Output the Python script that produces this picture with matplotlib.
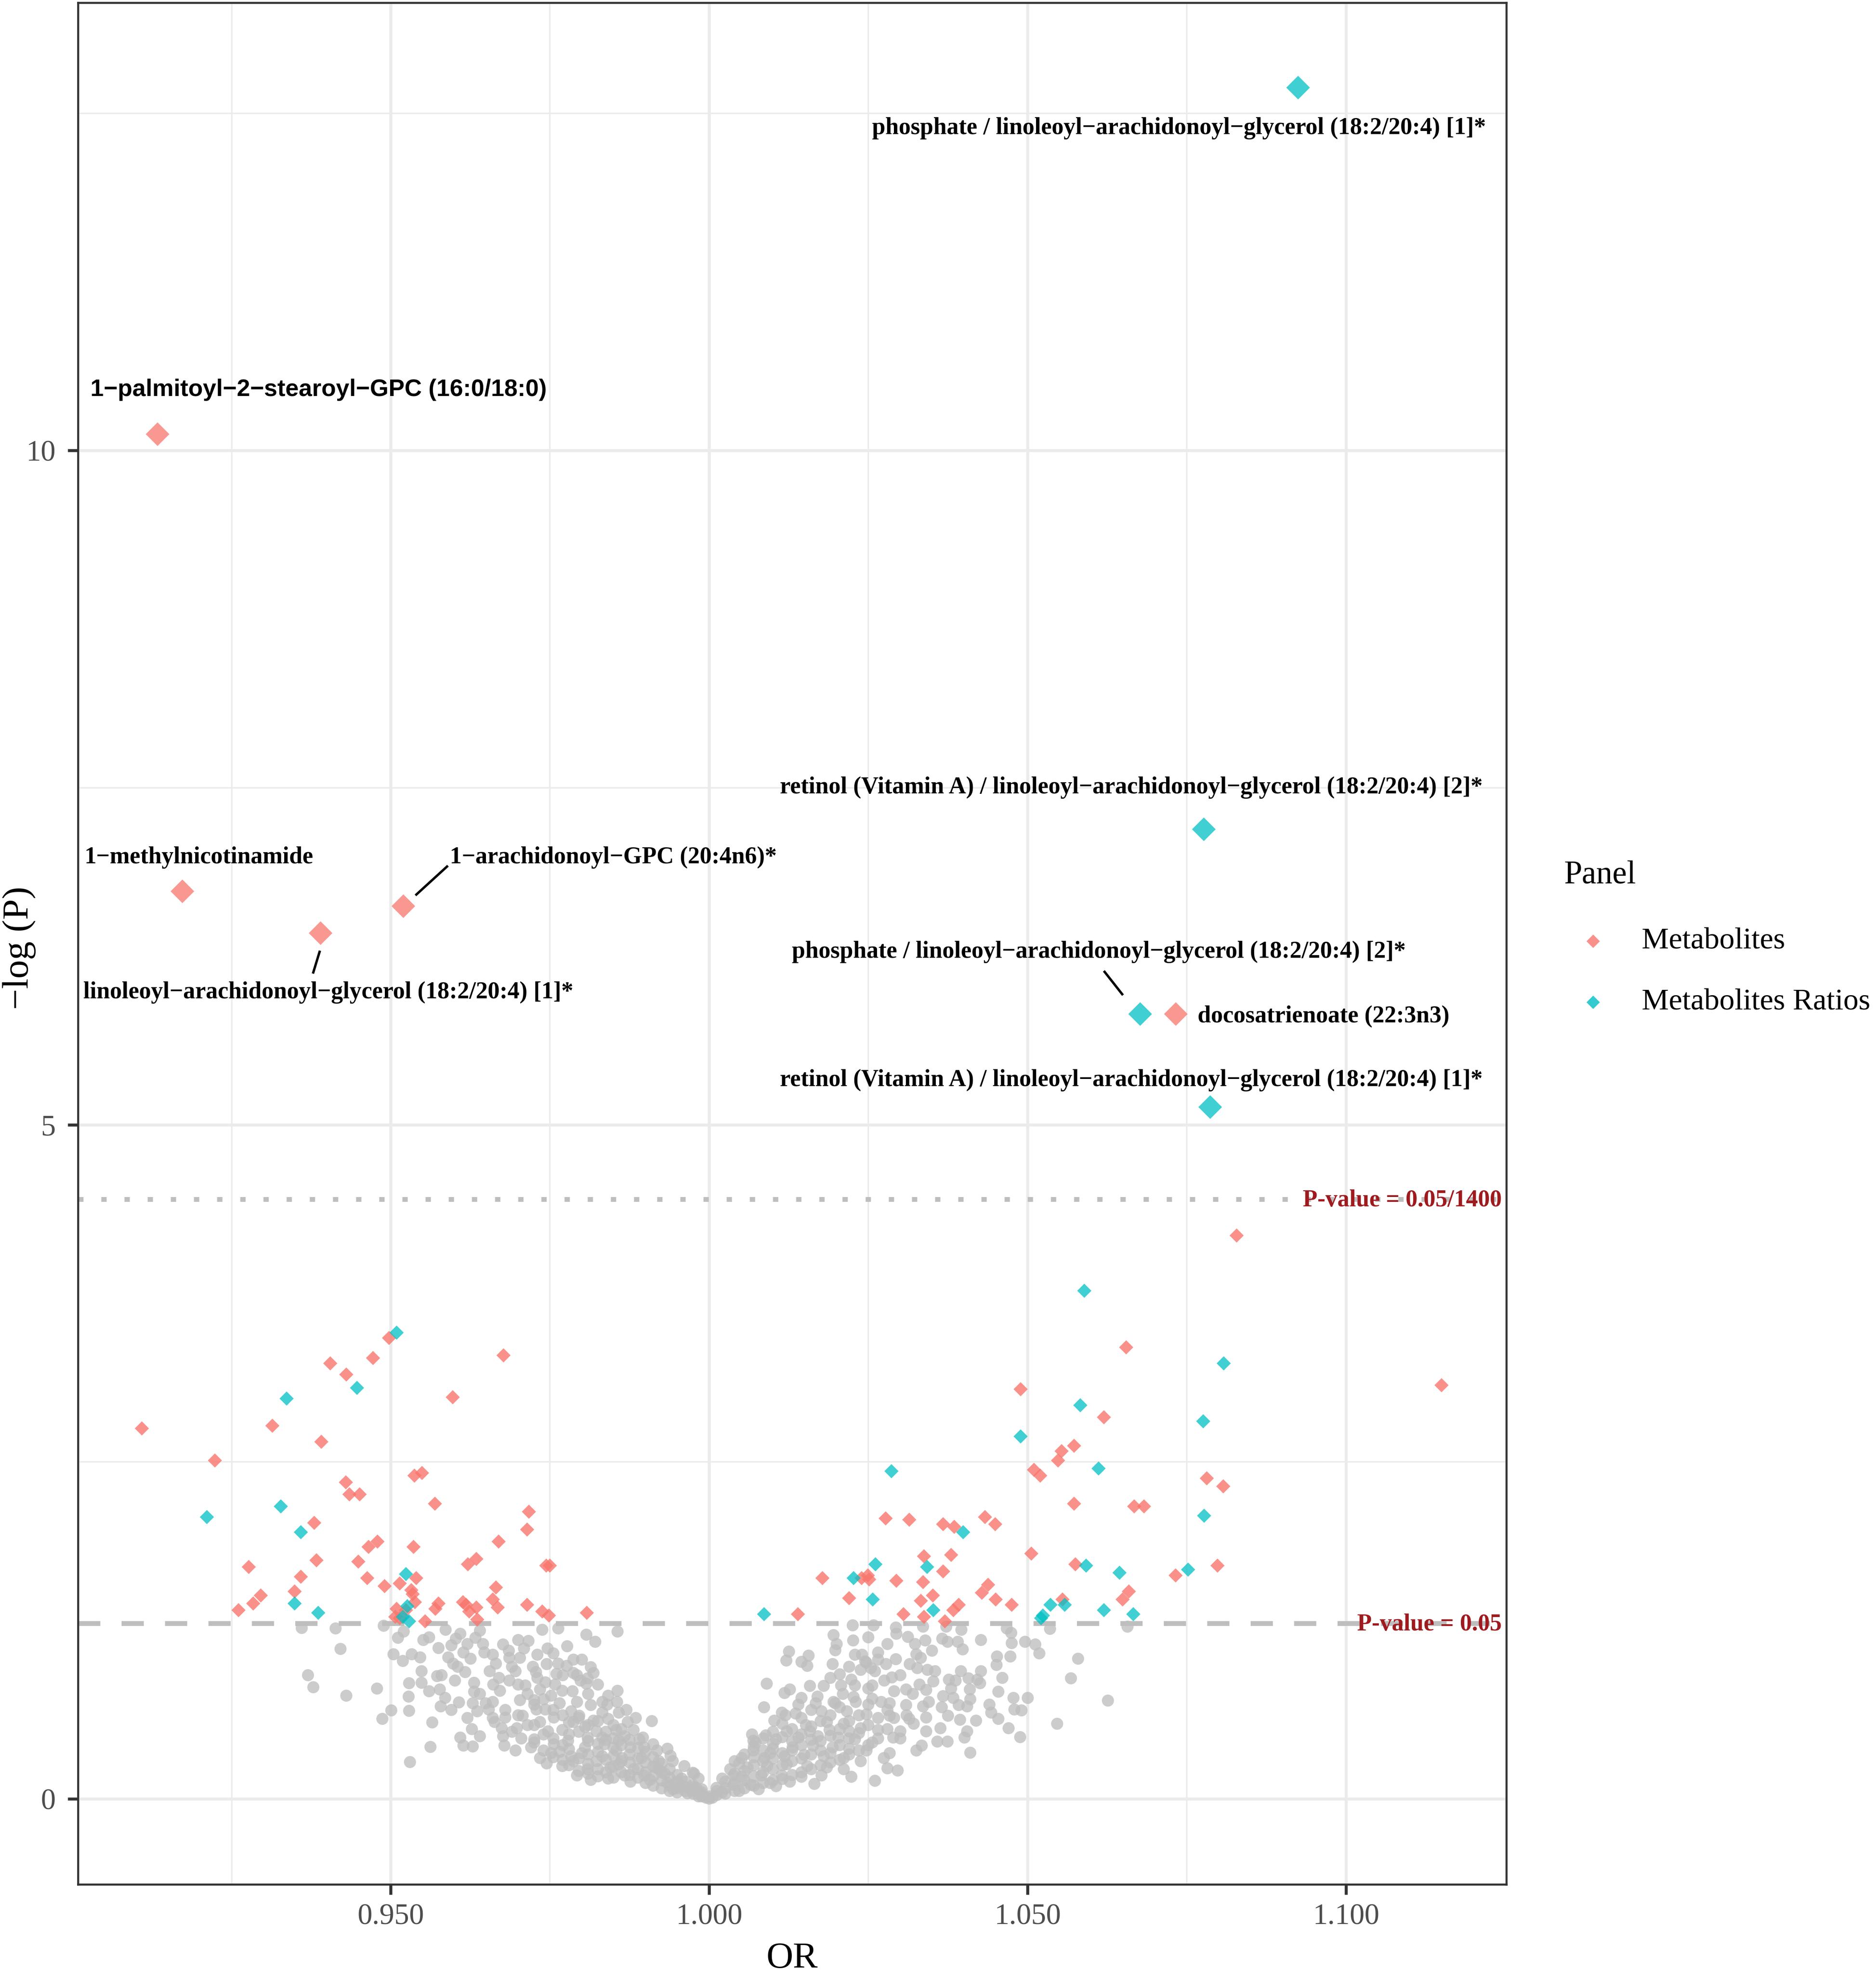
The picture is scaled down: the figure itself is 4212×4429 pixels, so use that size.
import numpy as np
import matplotlib
matplotlib.use("Agg")
import matplotlib.pyplot as plt
from matplotlib.lines import Line2D

# ---------------------------------------------------------------- data
# labelled hits (Bonferroni significant)
hit_names = [
    "phosphate / linoleoyl\u2212arachidonoyl\u2212glycerol (18:2/20:4) [1]*",
    "1\u2212palmitoyl\u22122\u2212stearoyl\u2212GPC (16:0/18:0)",
    "retinol (Vitamin A) / linoleoyl\u2212arachidonoyl\u2212glycerol (18:2/20:4) [2]*",
    "1\u2212methylnicotinamide",
    "1\u2212arachidonoyl\u2212GPC (20:4n6)*",
    "linoleoyl\u2212arachidonoyl\u2212glycerol (18:2/20:4) [1]*",
    "phosphate / linoleoyl\u2212arachidonoyl\u2212glycerol (18:2/20:4) [2]*",
    "docosatrienoate (22:3n3)",
    "retinol (Vitamin A) / linoleoyl\u2212arachidonoyl\u2212glycerol (18:2/20:4) [1]*",
]
hit_or = [1.0925, 0.9134, 1.0777, 0.9173, 0.9520, 0.9390, 1.0677, 1.0733, 1.0787]
hit_logp = [12.69, 10.12, 7.19, 6.73, 6.62, 6.42, 5.82, 5.82, 5.13]
hit_panel = ["Metabolites Ratios", "Metabolites", "Metabolites Ratios", "Metabolites",
             "Metabolites", "Metabolites", "Metabolites Ratios", "Metabolites",
             "Metabolites Ratios"]

# nominally significant metabolites
met_or = [0.9109, 0.9224, 0.9314, 0.9405, 0.9430, 0.9472, 0.9497, 0.9677, 0.9597, 0.9391,
          0.9429, 0.9435, 0.9451, 0.9537, 0.9549, 0.9569, 0.9717, 0.9714, 0.9380, 0.9669,
          0.9536, 0.9465, 0.9479, 0.9277, 0.9383, 0.9359, 0.9449, 0.9463, 0.9490, 0.9621,
          0.9634, 0.9744, 0.9750, 0.9540, 0.9514, 0.9532, 0.9534, 0.9665, 0.9349, 0.9296,
          0.9284, 0.9261, 0.9538, 0.9575, 0.9570, 0.9613, 0.9618, 0.9634, 0.9623, 0.9660,
          0.9668, 0.9714, 0.9738, 0.9748, 0.9808, 0.9509, 0.9524, 0.9507, 0.9514, 0.9554,
          0.9636,
          1.0828, 1.0655, 1.1150, 1.0489, 1.0620, 1.0573, 1.0553, 1.0548, 1.0510, 1.0520,
          1.0781, 1.0807, 1.0573, 1.0667, 1.0683, 1.0277, 1.0314, 1.0367, 1.0385, 1.0433,
          1.0449, 1.0337, 1.0380, 1.0506, 1.0575, 1.0798, 1.0732, 1.0178, 1.0239, 1.0249,
          1.0251, 1.0294, 1.0336, 1.0367, 1.0438, 1.0428, 1.0450, 1.0475, 1.0220, 1.0332,
          1.0351, 1.0392, 1.0383, 1.0305, 1.0337, 1.0370, 1.0139, 1.0555, 1.0659, 1.0649]
met_logp = [2.75, 2.51, 2.77, 3.23, 3.15, 3.27, 3.42, 3.29, 2.98, 2.65,
            2.35, 2.26, 2.26, 2.40, 2.42, 2.19, 2.13, 2.00, 2.05, 1.91,
            1.87, 1.87, 1.91, 1.72, 1.77, 1.65, 1.76, 1.64, 1.58, 1.74,
            1.78, 1.73, 1.73, 1.64, 1.60, 1.55, 1.52, 1.57, 1.54, 1.51,
            1.45, 1.40, 1.46, 1.45, 1.41, 1.46, 1.44, 1.42, 1.39, 1.48,
            1.42, 1.44, 1.39, 1.36, 1.38, 1.41, 1.40, 1.35, 1.34, 1.32,
            1.33,
            4.18, 3.35, 3.07, 3.04, 2.83, 2.62, 2.58, 2.51, 2.44, 2.40,
            2.38, 2.32, 2.19, 2.17, 2.17, 2.08, 2.07, 2.04, 2.02, 2.09,
            2.04, 1.80, 1.81, 1.82, 1.74, 1.73, 1.66, 1.64, 1.64, 1.66,
            1.63, 1.62, 1.61, 1.69, 1.59, 1.53, 1.48, 1.44, 1.49, 1.47,
            1.51, 1.44, 1.40, 1.37, 1.35, 1.32, 1.37, 1.48, 1.54, 1.48]

# nominally significant metabolite ratios
ratio_or = [0.9509, 0.9336, 0.9447, 0.9211, 0.9327, 0.9359, 0.9524, 0.9349, 0.9386, 0.9526,
            0.9529, 0.9519,
            1.0589, 1.0808, 1.0583, 1.0776, 1.0489, 1.0611, 1.0286, 1.0777, 1.0399, 1.0261,
            1.0342, 1.0592, 1.0752, 1.0644, 1.0227, 1.0257, 1.0352, 1.0536, 1.0558, 1.0620,
            1.0666, 1.0086, 1.0521, 1.0524]
ratio_logp = [3.46, 2.97, 3.05, 2.09, 2.17, 1.98, 1.67, 1.45, 1.38, 1.43,
              1.32, 1.35,
              3.77, 3.23, 2.92, 2.80, 2.69, 2.45, 2.43, 2.10, 1.98, 1.74,
              1.72, 1.73, 1.70, 1.68, 1.64, 1.48, 1.40, 1.44, 1.44, 1.40,
              1.37, 1.37, 1.34, 1.36]

# not significant (P >= 0.05), OR < 1
ns_left_or = [
    0.9360, 0.9413, 0.9421, 0.9370, 0.9378, 0.9430, 0.9478, 0.9487, 0.9501, 0.9529,
    0.9528, 0.9529, 0.9548, 0.9489, 0.9511, 0.9520, 0.9504, 0.9519, 0.9533, 0.9546,
    0.9551, 0.9530, 0.9562, 0.9565, 0.9573, 0.9577, 0.9585, 0.9578, 0.9586, 0.9598,
    0.9602, 0.9609, 0.9614, 0.9617, 0.9601, 0.9607, 0.9609, 0.9614, 0.9627, 0.9633,
    0.9645, 0.9647, 0.9631, 0.9631, 0.9629, 0.9636, 0.9640, 0.9629, 0.9661, 0.9660,
    0.9665, 0.9676, 0.9685, 0.9686, 0.9686, 0.9671, 0.9674, 0.9676, 0.9678, 0.9696,
    0.9654, 0.9663, 0.9649, 0.9696, 0.9703, 0.9711, 0.9716, 0.9709, 0.9723, 0.9728,
    0.9743, 0.9725, 0.9707, 0.9703, 0.9734, 0.9745, 0.9720, 0.9734, 0.9738, 0.9746,
    0.9755, 0.9763, 0.9760, 0.9763, 0.9776, 0.9752, 0.9765, 0.9777, 0.9787, 0.9800,
    0.9787, 0.9792, 0.9807, 0.9821, 0.9814, 0.9809, 0.9807, 0.9818, 0.9856, 0.9856,
    0.9858, 0.9910, 0.9896, 0.9974, 0.9939, 0.9918,
    0.9783, 0.9796, 0.9832, 0.9841, 0.9787, 0.9769, 0.9805, 0.9823, 0.9854, 0.9867,
    0.9778, 0.9809, 0.9836, 0.9876, 0.9765, 0.9800, 0.9832, 0.9863, 0.9894, 0.9769,
    0.9809, 0.9845, 0.9881, 0.9916, 0.9792, 0.9814, 0.9841, 0.9876, 0.9907, 0.9934,
    0.9943, 0.9966, 0.9983, 1.0000, 0.9930, 0.9957, 0.9898, 0.9867, 0.9854, 0.9787,
    0.9756, 0.9747, 0.9743, 0.9814, 0.9832, 0.9898, 0.9921, 0.9988, 0.9974, 0.9952,
    0.9729, 0.9756, 0.9818, 0.9850, 0.9881, 0.9890, 0.9912, 0.9934, 0.9943, 0.9961,
    0.9983, 0.9921, 0.9858, 0.9823, 0.9783, 0.9805, 0.9858, 0.9872, 0.9792, 0.9832,
    0.9769, 0.9734, 0.9841, 0.9698, 0.9680, 0.9725, 0.9752,
    0.9725, 0.9725, 0.9725, 0.9740, 0.9740, 0.9740, 0.9755, 0.9755, 0.9755, 0.9770,
    0.9770, 0.9770, 0.9780, 0.9780, 0.9780, 0.9780, 0.9795, 0.9795, 0.9795, 0.9795,
    0.9810, 0.9810, 0.9810, 0.9810, 0.9810, 0.9825, 0.9825, 0.9825, 0.9825, 0.9825,
    0.9838, 0.9838, 0.9838, 0.9838, 0.9850, 0.9850, 0.9850, 0.9850, 0.9850, 0.9862,
    0.9862, 0.9862, 0.9862, 0.9875, 0.9875, 0.9875, 0.9875, 0.9888, 0.9888, 0.9888,
    0.9888, 0.9900, 0.9900, 0.9900, 0.9900, 0.9912, 0.9912, 0.9912, 0.9912, 0.9925,
    0.9925, 0.9925, 0.9925, 0.9938, 0.9938, 0.9938, 0.9938, 0.9950, 0.9950, 0.9950,
    0.9950, 0.9962, 0.9962, 0.9962, 0.9975, 0.9975, 0.9975, 0.9988, 0.9988, 0.9988,
    0.9995,
    0.9560, 0.9575, 0.9590, 0.9605, 0.9620, 0.9640, 0.9655, 0.9670, 0.9690, 0.9700,
    0.9715, 0.9730, 0.9745, 0.9758, 0.9770, 0.9785, 0.9798, 0.9810, 0.9825, 0.9840,
    0.9855, 0.9870, 0.9885, 0.9640, 0.9660, 0.9680, 0.9700, 0.9715, 0.9690, 0.9705,
    0.9660, 0.9620, 0.9595, 0.9580, 0.9560, 0.9548, 0.9595, 0.9625, 0.9700, 0.9730]
ns_left_logp = [
    1.269, 1.267, 1.113, 0.919, 0.829, 0.766, 0.819, 0.594, 0.658, 0.655,
    0.761, 0.860, 0.864, 1.284, 1.197, 1.244, 1.073, 1.023, 1.075, 1.052,
    1.179, 0.274, 0.387, 0.567, 0.913, 0.814, 0.751, 0.687, 1.255, 1.006,
    1.191, 1.226, 1.087, 0.942, 0.878, 0.716, 0.455, 0.397, 0.519, 1.197,
    1.151, 1.087, 0.861, 0.797, 0.710, 0.652, 0.466, 0.391, 0.849, 1.070,
    1.006, 1.145, 1.099, 0.878, 1.046, 0.803, 0.524, 0.466, 0.397, 0.362,
    0.664, 0.571, 0.710, 0.948, 1.046, 0.843, 1.174, 1.116, 0.983, 0.942,
    0.867, 0.733, 0.617, 0.733, 0.304, 0.263, 0.385, 0.571, 1.255, 1.116,
    1.081, 1.267, 0.930, 1.006, 0.988, 0.768, 0.710, 1.133, 1.035, 1.035,
    0.936, 0.919, 1.220, 1.168, 0.977, 0.896, 0.855, 0.936, 1.244, 0.803,
    0.640, 0.577, 0.455, 0.194, 0.321, 0.362,
    0.652, 0.617, 0.640, 0.594, 0.571, 0.513, 0.536, 0.501, 0.513, 0.466,
    0.432, 0.455, 0.408, 0.385, 0.350, 0.339, 0.316, 0.304, 0.304, 0.246,
    0.223, 0.234, 0.223, 0.234, 0.176, 0.142, 0.153, 0.130, 0.142, 0.118,
    0.072, 0.043, 0.020, 0.002, 0.188, 0.153, 0.176, 0.176, 0.362, 0.281,
    0.408, 0.501, 0.664, 0.698, 0.455, 0.385, 0.281, 0.072, 0.107, 0.118,
    0.664, 0.606, 0.582, 0.548, 0.513, 0.443, 0.408, 0.374, 0.281, 0.246,
    0.153, 0.223, 0.258, 0.281, 0.316, 0.385, 0.432, 0.571, 0.722, 0.722,
    0.803, 0.814, 0.768, 0.524, 0.606, 0.443, 0.339,
    0.70, 0.55, 0.42, 0.74, 0.48, 0.36, 0.66, 0.45, 0.31, 0.62,
    0.40, 0.29, 0.57, 0.48, 0.37, 0.25, 0.60, 0.50, 0.30, 0.21,
    0.55, 0.43, 0.33, 0.26, 0.19, 0.58, 0.41, 0.35, 0.22, 0.17,
    0.50, 0.44, 0.29, 0.20, 0.45, 0.38, 0.32, 0.24, 0.16, 0.52,
    0.40, 0.28, 0.20, 0.44, 0.33, 0.27, 0.18, 0.38, 0.30, 0.22,
    0.16, 0.35, 0.27, 0.20, 0.12, 0.31, 0.24, 0.17, 0.10, 0.26,
    0.20, 0.14, 0.08, 0.22, 0.16, 0.10, 0.06, 0.18, 0.13, 0.08,
    0.05, 0.13, 0.09, 0.06, 0.09, 0.06, 0.04, 0.05, 0.03, 0.02,
    0.01,
    1.20, 1.12, 1.05, 0.98, 1.15, 1.25, 0.95, 0.90, 0.98, 0.85,
    0.78, 0.90, 1.00, 0.85, 0.92, 0.80, 0.88, 0.78, 0.85, 0.70,
    0.72, 0.66, 0.60, 0.78, 0.72, 0.66, 0.62, 0.55, 0.50, 0.45,
    0.60, 0.60, 0.66, 0.92, 0.80, 0.95, 1.14, 1.04, 1.18, 1.07]

# not significant (P >= 0.05), OR > 1
ns_right_or = [
    1.0225, 1.0258, 1.0293, 1.0294, 1.0195, 1.0226, 1.0312, 1.0336, 1.0339, 1.0323,
    1.0366, 1.0374, 1.0396, 1.0390, 1.0398, 1.0372, 1.0427, 1.0467, 1.0474, 1.0475,
    1.0496, 1.0512, 1.0518, 1.0535, 1.0579, 1.0568, 1.0626, 1.0546, 1.0657, 1.0125,
    1.0121, 1.0145, 1.0156, 1.0154, 1.0198, 1.0194, 1.0229, 1.0240, 1.0265, 1.0265,
    1.0247, 1.0254, 1.0238, 1.0278, 1.0293, 1.0325, 1.0332, 1.0327, 1.0343, 1.0452,
    1.0473, 1.0451, 1.0427, 1.0407, 1.0421, 1.0352, 1.0376, 1.0387, 1.0287, 1.0205,
    1.0223, 1.0090, 1.0127, 1.0158, 1.0180, 1.0207, 1.0229, 1.0256, 1.0309, 1.0341,
    1.0409, 1.0454, 1.0478, 1.0500, 1.0367, 1.0383, 1.0118, 1.0145, 1.0086, 1.0167,
    1.0198, 1.0227, 1.0256, 1.0283, 1.0309, 1.0336, 1.0392, 1.0405, 1.0479, 1.0490,
    1.0443, 1.0454, 1.0375, 1.0394, 1.0419, 1.0102, 1.0114, 1.0136, 1.0176, 1.0216,
    1.0247, 1.0283, 1.0314, 1.0341, 1.0363, 1.0341, 1.0321, 1.0470, 1.0488, 1.0405,
    1.0401, 1.0358, 1.0374, 1.0410, 1.0334, 1.0325, 1.0289, 1.0283, 1.0274, 1.0280,
    1.0296, 1.0260, 1.0223, 1.0165, 1.0047, 1.0067, 1.0089, 1.0122, 1.0152, 1.0185,
    1.0211, 1.0238, 1.0265, 1.0300,
    1.0073, 1.0105, 1.0140, 1.0171, 1.0203, 1.0229, 1.0256, 1.0069, 1.0100, 1.0131,
    1.0163, 1.0194, 1.0220, 1.0247, 1.0051, 1.0087, 1.0118, 1.0149, 1.0180, 1.0211,
    1.0238, 1.0033, 1.0060, 1.0091, 1.0122, 1.0154, 1.0185, 1.0211, 1.0020, 1.0051,
    1.0082, 1.0114, 1.0145, 1.0176, 1.0011, 1.0038, 1.0065, 1.0096, 1.0127, 1.0020,
    1.0047, 1.0078, 1.0105, 1.0000, 0.9984, 0.9976, 0.9980, 1.0038, 1.0069, 1.0096,
    1.0158, 1.0189, 1.0220,
    1.0005, 1.0012, 1.0012, 1.0025, 1.0025, 1.0025, 1.0040, 1.0040, 1.0040, 1.0040,
    1.0055, 1.0055, 1.0055, 1.0055, 1.0070, 1.0070, 1.0070, 1.0070, 1.0070, 1.0085,
    1.0085, 1.0085, 1.0085, 1.0085, 1.0100, 1.0100, 1.0100, 1.0100, 1.0100, 1.0115,
    1.0115, 1.0115, 1.0115, 1.0115, 1.0130, 1.0130, 1.0130, 1.0130, 1.0130, 1.0145,
    1.0145, 1.0145, 1.0145, 1.0145, 1.0160, 1.0160, 1.0160, 1.0160, 1.0160, 1.0175,
    1.0175, 1.0175, 1.0175, 1.0190, 1.0190, 1.0190, 1.0190, 1.0205, 1.0205, 1.0205,
    1.0205, 1.0220, 1.0220, 1.0220, 1.0235, 1.0235, 1.0235, 1.0250, 1.0250, 1.0250,
    1.0265, 1.0265, 1.0280, 1.0280,
    1.0260, 1.0275, 1.0290, 1.0300, 1.0310, 1.0320, 1.0330, 1.0345, 1.0355, 1.0365,
    1.0380, 1.0395, 1.0410, 1.0425, 1.0440, 1.0460, 1.0300, 1.0290, 1.0270, 1.0250,
    1.0230, 1.0210, 1.0195, 1.0170, 1.0140, 1.0120, 1.0190, 1.0220, 1.0245, 1.0315,
    1.0350, 1.0280, 1.0250, 1.0200]
ns_right_logp = [
    1.290, 1.290, 1.273, 1.226, 1.215, 1.176, 1.203, 1.278, 1.176, 1.151,
    1.191, 1.168, 1.255, 1.168, 1.110, 1.278, 1.180, 1.267, 1.232, 1.157,
    1.168, 1.145, 1.081, 1.261, 1.041, 0.896, 0.731, 0.559, 1.278, 1.093,
    1.029, 1.017, 1.064, 0.988, 1.104, 1.000, 1.070, 1.070, 1.087, 1.035,
    1.012, 0.971, 0.959, 1.000, 1.038, 1.075, 1.046, 0.971, 0.959, 1.058,
    1.058, 0.994, 0.948, 0.896, 0.884, 0.872, 0.884, 0.878, 0.901, 0.925,
    0.884, 0.855, 0.814, 0.838, 0.838, 0.843, 0.843, 0.843, 0.814, 0.809,
    0.814, 0.797, 0.751, 0.751, 0.762, 0.751, 0.785, 0.751, 0.681, 0.710,
    0.710, 0.756, 0.745, 0.710, 0.698, 0.687, 0.698, 0.687, 0.664, 0.658,
    0.640, 0.594, 0.617, 0.588, 0.582, 0.582, 0.640, 0.635, 0.652, 0.652,
    0.629, 0.617, 0.594, 0.606, 0.524, 0.501, 0.559, 0.524, 0.461, 0.501,
    0.455, 0.426, 0.426, 0.345, 0.397, 0.362, 0.455, 0.339, 0.304, 0.229,
    0.211, 0.136, 0.165, 0.113, 0.263, 0.478, 0.472, 0.501, 0.548, 0.571,
    0.559, 0.524, 0.513, 0.501,
    0.420, 0.443, 0.455, 0.466, 0.455, 0.443, 0.420, 0.362, 0.374, 0.385,
    0.397, 0.385, 0.374, 0.362, 0.304, 0.304, 0.316, 0.327, 0.316, 0.304,
    0.281, 0.223, 0.234, 0.246, 0.258, 0.246, 0.234, 0.223, 0.153, 0.165,
    0.176, 0.176, 0.165, 0.176, 0.084, 0.107, 0.107, 0.118, 0.130, 0.049,
    0.060, 0.072, 0.095, 0.020, 0.049, 0.188, 0.084, 0.176, 0.432, 0.339,
    0.501, 0.513, 0.501,
    0.01, 0.03, 0.06, 0.04, 0.08, 0.13, 0.06, 0.12, 0.19, 0.28,
    0.08, 0.14, 0.21, 0.33, 0.10, 0.17, 0.25, 0.31, 0.39, 0.12,
    0.20, 0.28, 0.36, 0.45, 0.14, 0.22, 0.30, 0.41, 0.50, 0.15,
    0.25, 0.34, 0.46, 0.56, 0.18, 0.28, 0.36, 0.43, 0.52, 0.20,
    0.30, 0.40, 0.48, 0.60, 0.22, 0.33, 0.44, 0.54, 0.66, 0.25,
    0.36, 0.43, 0.58, 0.27, 0.34, 0.47, 0.62, 0.29, 0.40, 0.52,
    0.68, 0.33, 0.45, 0.58, 0.36, 0.49, 0.62, 0.40, 0.55, 0.70,
    0.45, 0.60, 0.52, 0.66,
    0.95, 0.88, 0.80, 0.92, 0.62, 0.78, 0.85, 0.72, 0.95, 0.68,
    0.82, 0.95, 0.74, 0.86, 0.70, 0.90, 0.45, 0.60, 0.72, 0.82,
    0.72, 0.78, 0.72, 0.76, 0.70, 0.62, 0.90, 0.98, 1.02, 1.00,
    1.10, 1.15, 1.20, 1.15]

P_NOMINAL = 0.05
N_TESTS = 1400

# ---------------------------------------------------------------- layout
W, H, DPI = 4212, 4429, 300
COL_MET = "#F8766D"
COL_RATIO = "#00BFC4"
COL_NS = "#BEBEBE"
GRID = "#EBEBEB"
DARKRED = "#9E1A1E"

# label placement (data coords): x, y, use sans font
label_xy = [
    (1.0738, 12.39, False),
    (0.9387, 10.45, True),
    (1.0663, 7.50, False),
    (0.9199, 6.98, False),
    (0.9850, 6.98, False),
    (0.9402, 5.98, False),
    (1.0612, 6.28, False),
    (1.0965, 5.80, False),
    (1.0663, 5.33, False),
]
# connector segments for repelled labels
segments = [
    ((0.9539, 6.70), (0.9590, 6.92)),
    ((0.9389, 6.29), (0.9378, 6.12)),
    ((1.0620, 6.14), (1.0650, 5.96)),
]

plt.rcParams["font.family"] = ["Liberation Serif", "DejaVu Serif"]

fig = plt.figure(figsize=(W / DPI, H / DPI), dpi=DPI)
ax = fig.add_axes([175 / W, 1 - 4230 / H, (3382 - 175) / W, (4230 - 6) / H])

panel_color = {"Metabolites": COL_MET, "Metabolites Ratios": COL_RATIO}

y_nom = -np.log10(P_NOMINAL)
y_bonf = -np.log10(P_NOMINAL / N_TESTS)
ax.axhline(y_nom, color=COL_NS, lw=2.6, dashes=(4.6, 4.4), zorder=1.5)
ax.axhline(y_bonf, color=COL_NS, lw=2.6, dashes=(1.1, 3.7), zorder=1.5)

ax.scatter(ns_left_or + ns_right_or, ns_left_logp + ns_right_logp, s=6.5 ** 2,
           marker="o", color=COL_NS, alpha=0.78, linewidths=0, zorder=2)
ax.scatter(met_or, met_logp, s=5.4 ** 2, marker="D", color=COL_MET, alpha=0.8,
           linewidths=0, zorder=3)
ax.scatter(ratio_or, ratio_logp, s=5.4 ** 2, marker="D", color=COL_RATIO, alpha=0.75,
           linewidths=0, zorder=3)
ax.scatter(hit_or, hit_logp, s=9.0 ** 2, marker="D",
           color=[panel_color[p] for p in hit_panel], alpha=0.75, linewidths=0, zorder=4)

for name, (lx, ly, sans) in zip(hit_names, label_xy):
    fam = ["Liberation Sans", "DejaVu Sans"] if sans else ["Liberation Serif", "DejaVu Serif"]
    ax.text(lx, ly, name, ha="center", va="center", fontsize=12.9, fontweight="bold",
            family=fam, color="black", zorder=5)
for (x0, y0), (x1, y1) in segments:
    ax.plot([x0, x1], [y0, y1], color="black", lw=1.3, solid_capstyle="butt", zorder=5)

ax.text(1.1245, y_bonf - 0.01, "P-value = 0.05/1400", ha="right", va="center",
        fontsize=12.9, fontweight="bold", color=DARKRED, zorder=6)
ax.text(1.1245, y_nom - 0.01, "P-value = 0.05", ha="right", va="center",
        fontsize=12.9, fontweight="bold", color=DARKRED, zorder=6)

# axes styling (theme_bw look)
ax.set_xlim(0.9009, 1.1252)
ax.set_ylim(-0.634, 13.32)
ax.set_xticks([0.95, 1.0, 1.05, 1.1])
ax.set_xticklabels(["0.950", "1.000", "1.050", "1.100"])
ax.set_xticks([0.925, 0.975, 1.025, 1.075], minor=True)
ax.set_yticks([0, 5, 10])
ax.set_yticklabels(["0", "5", "10"])
ax.set_yticks([2.5, 7.5, 12.5], minor=True)
ax.set_axisbelow(True)
ax.grid(which="major", color=GRID, lw=1.6)
ax.grid(which="minor", color=GRID, lw=0.8)
ax.tick_params(which="major", direction="out", length=5.5, width=1.6, color="#333333",
               labelcolor="#4D4D4D", labelsize=16)
ax.tick_params(axis="x", which="major", pad=4.8)
ax.tick_params(axis="y", which="major", pad=6.5)
ax.tick_params(which="minor", length=0)
for sp in ax.spines.values():
    sp.set_color("#333333")
    sp.set_linewidth(1.1)

ax.set_xlabel("OR", fontsize=20)
ax.xaxis.set_label_coords(0.5, (4230 - 4397) / (4230 - 6))
ax.xaxis.label.set_va("center")
ax.set_ylabel("\u2212log (P)", fontsize=20)
ax.yaxis.set_label_coords((43 - 175) / (3382 - 175), (4230 - 2128) / (4230 - 6))
ax.yaxis.label.set_va("center")

# legend
fig.text(3512 / W, 1 - 1966 / H, "Panel", fontsize=17.5, ha="left", va="center")
for lab, py in [("Metabolites", 2113), ("Metabolites Ratios", 2250)]:
    fig.add_artist(Line2D([3577 / W], [1 - py / H], marker="D", markersize=5.2,
                          color=panel_color[lab], alpha=0.8, markeredgewidth=0,
                          linestyle="none", transform=fig.transFigure))
    fig.text(3686 / W, 1 - py / H, lab, fontsize=16.4, ha="left", va="center")

fig.savefig("out.png", dpi=DPI)
